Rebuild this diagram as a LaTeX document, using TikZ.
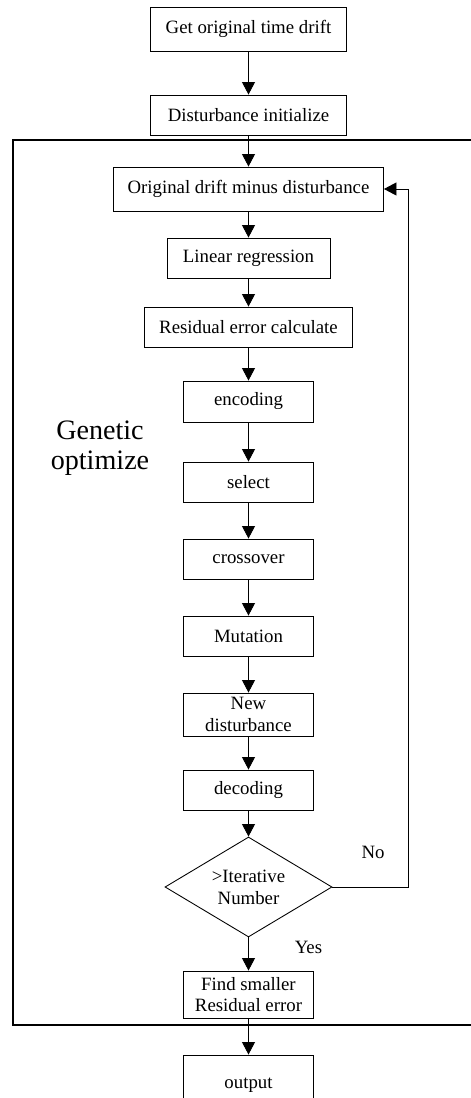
\documentclass[tikz,border=0pt]{standalone}
\usepackage{fontspec}
\setmainfont{Liberation Serif}
\usetikzlibrary{arrows.meta,shapes.geometric}

\begin{document}
\begin{tikzpicture}[>={Triangle[length=0.25cm,width=0.26cm]}, line width=0.5pt,
  box/.style={draw, rectangle, inner sep=1pt, align=center, minimum height=0.8cm,
    font=\fontsize{10.7}{12.4}\selectfont},
  decision/.style={draw, diamond, inner sep=0pt, aspect=1.67, align=center,
    minimum width=3.34cm, minimum height=2cm, font=\fontsize{10.7}{12.4}\selectfont}]
  \useasboundingbox (0,0) rectangle (9.4,21.96);
  % genetic loop frame
  \draw[line width=0.9pt] (9.8,19.16) -- (0.26,19.16) -- (0.26,1.46) -- (9.8,1.46);
  \node[font=\fontsize{16}{17}\selectfont, align=center] (ga) at (2.0,13.0) {Genetic\\optimize};
  \node[box, minimum width=3.92cm, minimum height=0.88cm] (get) at (4.97,21.38) {Get original time drift};
  \node[box, minimum width=3.92cm] (init) at (4.97,19.66) {Disturbance initialize};
  \node[box, minimum width=5.40cm, minimum height=0.88cm] (minus) at (4.97,18.18) {Original drift minus disturbance};
  \node[box, minimum width=3.26cm] (lin) at (4.97,16.80) {Linear regression};
  \node[box, minimum width=4.16cm] (res) at (4.97,15.42) {Residual error calculate};
  \node[box, minimum width=2.6cm, minimum height=0.82cm] (enc) at (4.97,13.93) {encoding};
  \node[box, minimum width=2.6cm] (sel) at (4.97,12.32) {select};
  \node[box, minimum width=2.6cm] (cross) at (4.97,10.78) {crossover};
  \node[box, minimum width=2.6cm] (mut) at (4.97,9.24) {Mutation};
  \node[box, minimum width=2.6cm, minimum height=0.86cm] (newd) at (4.97,7.67) {New\\disturbance};
  \node[box, minimum width=2.6cm] (dec) at (4.97,6.16) {decoding};
  \node[decision] (iter) at (4.97,4.22) {>Iterative\\Number};
  \node[box, minimum width=2.6cm, minimum height=0.94cm] (find) at (4.97,2.07) {Find smaller\\Residual error};
  \node[box, minimum width=2.6cm, minimum height=1.2cm] (out) at (4.97,0.26) {output};
  \coordinate (back) at (8.16,18.18);
  \draw[->] (get) -- (init);
  \draw[->] (init) -- (minus);
  \draw[->] (minus) -- (lin);
  \draw[->] (lin) -- (res);
  \draw[->] (res) -- (enc);
  \draw[->] (enc) -- (sel);
  \draw[->] (sel) -- (cross);
  \draw[->] (cross) -- (mut);
  \draw[->] (mut) -- (newd);
  \draw[->] (newd) -- (dec);
  \draw[->] (dec) -- (iter);
  \draw[->] (iter) -- (find) node[pos=0.3, right=0.8cm, font=\fontsize{10.7}{12.4}\selectfont] {Yes};
  \draw[->] (find) -- (out);
  \draw[->] (iter.east) -| (back) -- (minus.east);
  \node[font=\fontsize{10.7}{12.4}\selectfont] (no) at (7.46,4.92) {No};
\end{tikzpicture}
\end{document}
